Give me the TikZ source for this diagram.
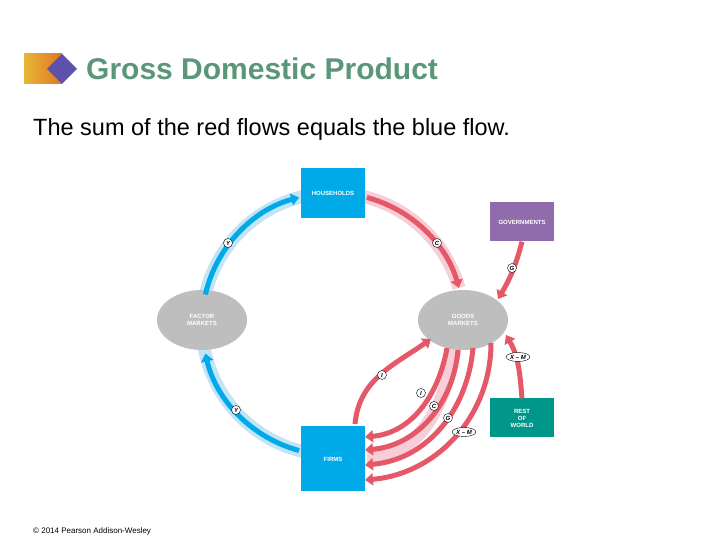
\documentclass[tikz,border=0pt]{standalone}
\usepackage{fontspec}
\setmainfont{Liberation Sans}
\usetikzlibrary{arrows.meta,shapes.geometric}
\definecolor{fblue}{RGB}{0,170,232}
\definecolor{halob}{RGB}{195,228,245}
\definecolor{fred}{RGB}{228,88,104}
\definecolor{halor}{RGB}{247,205,215}
\definecolor{egray}{RGB}{190,190,190}
\definecolor{gpurple}{RGB}{145,108,172}
\definecolor{rteal}{RGB}{0,150,138}
\definecolor{tgreen}{RGB}{90,150,120}
\definecolor{gold}{RGB}{232,182,52}
\definecolor{orng}{RGB}{222,118,40}
\definecolor{dpurple}{RGB}{92,82,172}
\tikzset{
  box/.style={rectangle,minimum width=64pt,minimum height=50pt,text=white,font=\fontsize{6}{7}\selectfont\bfseries,align=center},
  mkt/.style={ellipse,fill=egray,minimum width=90pt,minimum height=60pt,text=white,font=\fontsize{6}{7}\selectfont\bfseries,align=center},
  bflow/.style={draw=fblue,line width=5pt,-{Triangle[length=8pt,width=12pt]}},
  rflow/.style={draw=fred,line width=5pt,-{Triangle[length=8pt,width=12pt]}},
  hb/.style={draw=halob,line width=13pt},
  hr/.style={draw=halor,line width=13pt},
  lab/.style={circle,draw=black,fill=white,line width=0.4pt,inner sep=0pt,minimum size=9pt,font=\fontsize{6}{6}\selectfont\bfseries\itshape},
  olab/.style={ellipse,draw=black,fill=white,line width=0.4pt,inner sep=0.6pt,minimum height=9pt,font=\fontsize{6}{6}\selectfont\bfseries\itshape}
}
\begin{document}
\begin{tikzpicture}[x=1pt,y=1pt]
\useasboundingbox (0,0) rectangle (720,540);
% title
\shade[left color=gold,right color=orng] (24,456) rectangle (62,486);
\fill[dpurple] (62,486) -- (77,471) -- (62,456) -- (47,471) -- cycle;
\node[anchor=base west,inner sep=0,text=tgreen,font=\fontsize{30}{34}\selectfont\bfseries] (title) at (86,460) {Gross Domestic Product};
\node[anchor=base west,inner sep=0,font=\fontsize{23.5}{27}\selectfont] (sub) at (33,404) {The sum of the red flows equals the blue flow.};
\node[anchor=base west,inner sep=0,font=\fontsize{8}{9}\selectfont] (copy) at (33,6) {\textcopyright{} 2014 Pearson Addison-Wesley};
\coordinate (c) at (333,216);
% halos
\draw[hb] ([shift={(c)}]258:131) arc[start angle=258,end angle=190,radius=131];
\draw[hb] ([shift={(c)}]170:131) arc[start angle=170,end angle=103,radius=131];
\draw[hr] ([shift={(c)}]77:131) arc[start angle=77,end angle=16,radius=131];
\draw[hr] (455,192) to[out=-100,in=0] (367,83);
% nodes
\node[mkt] (fm) at (202,220) {FACTOR\\MARKETS};
\node[mkt] (gm) at (463,220) {GOODS\\MARKETS};
% blue flows
\draw[bflow] ([shift={(c)}]255:131) arc[start angle=255,end angle=193,radius=131];
\draw[bflow] ([shift={(c)}]167:131) arc[start angle=167,end angle=105,radius=131];
% red flows
\draw[rflow] ([shift={(c)}]75:131) arc[start angle=75,end angle=16,radius=131];
\draw[rflow] (355,116) to[out=85,in=215] (431,201);
\draw[rflow] (447,192) to[out=-100,in=5] (365,103);
\draw[rflow] (458,190) to[out=-95,in=5] (365,90);
\draw[rflow] (473,192) to[out=-95,in=5] (365,75);
\draw[rflow] (491,197) to[out=-90,in=5] (365,60);
\node[box,fill=fblue] (hh) at (333,347) {HOUSEHOLDS};
\node[box,fill=fblue,minimum height=65pt] (firms) at (333,81) {FIRMS};
\node[box,fill=gpurple,minimum height=39pt] (gov) at (522,318) {GOVERNMENTS};
\node[box,fill=rteal,minimum height=39pt] (row) at (522,122) {REST\\OF\\WORLD};
\draw[rflow] (gov.south) to[bend left=8] (498,241);
\draw[rflow] (row.north) to[out=95,in=-60] (506,205);
% labels
\node[lab] (l1) at (228,297) {Y};
\node[lab] (l2) at (236,130) {Y};
\node[lab] (l3) at (437,297) {C};
\node[lab] (l4) at (512,272) {G};
\node[olab] (l5) at (518,183) {X -- M};
\node[lab] (l6) at (382,165) {I};
\node[lab] (l7) at (421,147) {I};
\node[lab] (l8) at (434,134) {C};
\node[lab] (l9) at (448,122) {G};
\node[olab] (l10) at (464,108) {X -- M};
\end{tikzpicture}
\end{document}
